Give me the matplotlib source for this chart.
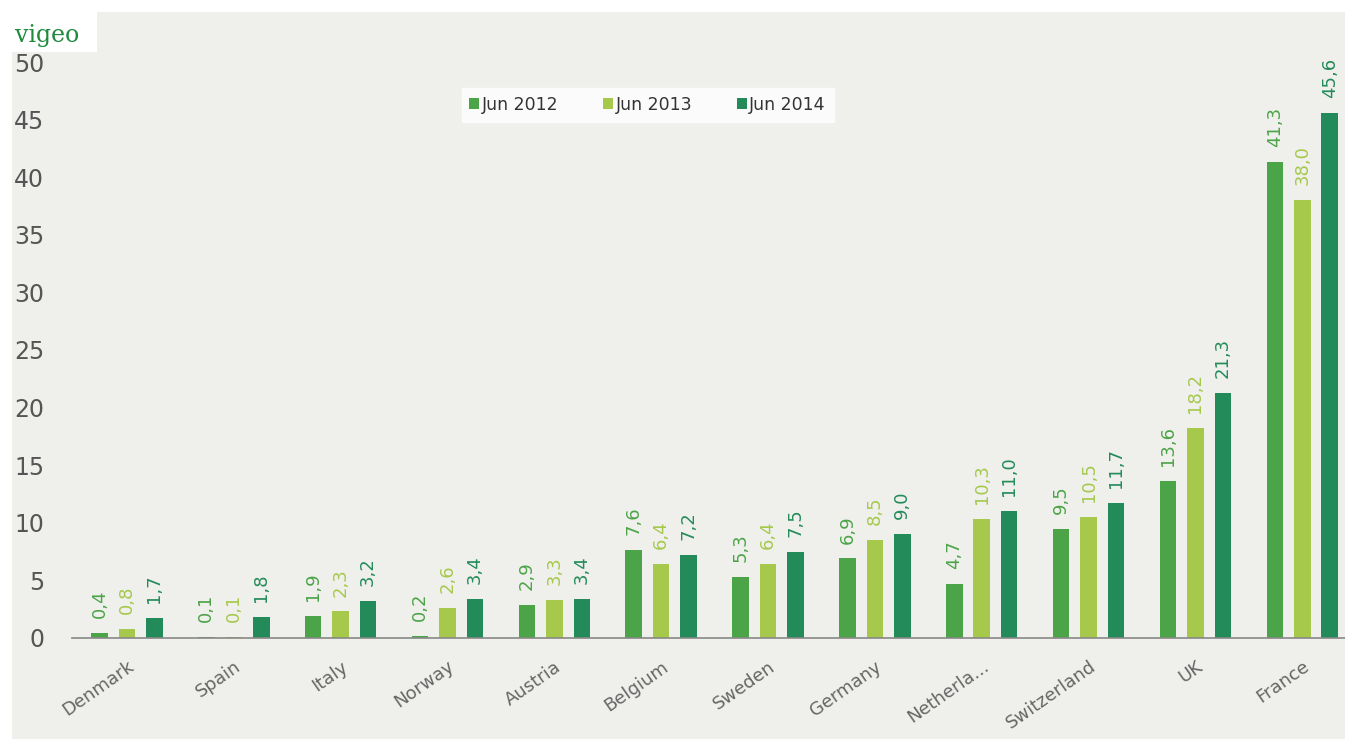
import numpy as np
import matplotlib
matplotlib.use("Agg")
import matplotlib.pyplot as plt
from matplotlib.patches import Rectangle

countries = ["Denmark", "Spain", "Italy", "Norway", "Austria", "Belgium",
             "Sweden", "Germany", "Netherla...", "Switzerland", "UK", "France"]
jun_2012 = [0.4, 0.1, 1.9, 0.2, 2.9, 7.6, 5.3, 6.9, 4.7, 9.5, 13.6, 41.3]
jun_2013 = [0.8, 0.1, 2.3, 2.6, 3.3, 6.4, 6.4, 8.5, 10.3, 10.5, 18.2, 38.0]
jun_2014 = [1.7, 1.8, 3.2, 3.4, 3.4, 7.2, 7.5, 9.0, 11.0, 11.7, 21.3, 45.6]
series_names = ["Jun 2012", "Jun 2013", "Jun 2014"]
colors = ["#4ca448", "#a6c94c", "#238b59"]

bg = "#efefec"
fig = plt.figure(figsize=(13.45, 7.39), dpi=100, facecolor=bg)
# white strips on top / left like the screenshot
fig.patches.append(Rectangle((0, 0.984), 1, 0.016, transform=fig.transFigure,
                             facecolor="white", edgecolor="none", zorder=0))
fig.patches.append(Rectangle((0, 0), 0.009, 1, transform=fig.transFigure,
                             facecolor="white", edgecolor="none", zorder=0))
fig.patches.append(Rectangle((0, 0.93), 0.072, 0.07, transform=fig.transFigure,
                             facecolor="white", edgecolor="none", zorder=0))
fig.text(0.011, 0.952, "vigeo", family="DejaVu Serif", color="#1e8a3c",
         fontsize=17, va="center", ha="left")

ax = fig.add_axes([0.0535, 0.1367, 0.9465, 0.7794])
ax.set_facecolor(bg)

x = np.arange(len(countries))
step = 0.257
width = 0.155
all_series = [jun_2012, jun_2013, jun_2014]
for k, (vals, name, col) in enumerate(zip(all_series, series_names, colors)):
    pos = x + (k - 1) * step
    ax.bar(pos, vals, width=width, color=col, label=name, zorder=2)
    for p, v in zip(pos, vals):
        ax.text(p, v + 1.3, f"{v:.1f}".replace(".", ","), rotation=90,
                ha="center", va="bottom", color=col, fontsize=13,
                fontweight="medium", clip_on=False)

ax.set_xlim(-0.515, 11.4)
ax.set_ylim(0, 50)
ax.set_yticks(range(0, 51, 5))
ax.tick_params(axis="y", length=0, labelsize=17, labelcolor="#555555", pad=20)
ax.set_xticks(x)
ax.set_xticklabels(countries, rotation=35, ha="right", rotation_mode="anchor",
                   fontsize=13, color="#666666")
ax.tick_params(axis="x", length=0, pad=14)
for s in ["top", "right", "left"]:
    ax.spines[s].set_visible(False)
ax.spines["bottom"].set_color("#888888")
ax.spines["bottom"].set_linewidth(1.2)

leg = ax.legend(loc="upper left", bbox_to_anchor=(0.306, 0.955), ncol=3,
                frameon=True, fancybox=False, fontsize=12.5, handlelength=0.55,
                handleheight=0.55, handletextpad=0.15, columnspacing=2.6,
                borderpad=0.45, borderaxespad=0)
leg.get_frame().set_facecolor("white")
leg.get_frame().set_edgecolor("white")
for t in leg.get_texts():
    t.set_color("#333333")

fig.savefig("out.png", dpi=100, facecolor=bg)
